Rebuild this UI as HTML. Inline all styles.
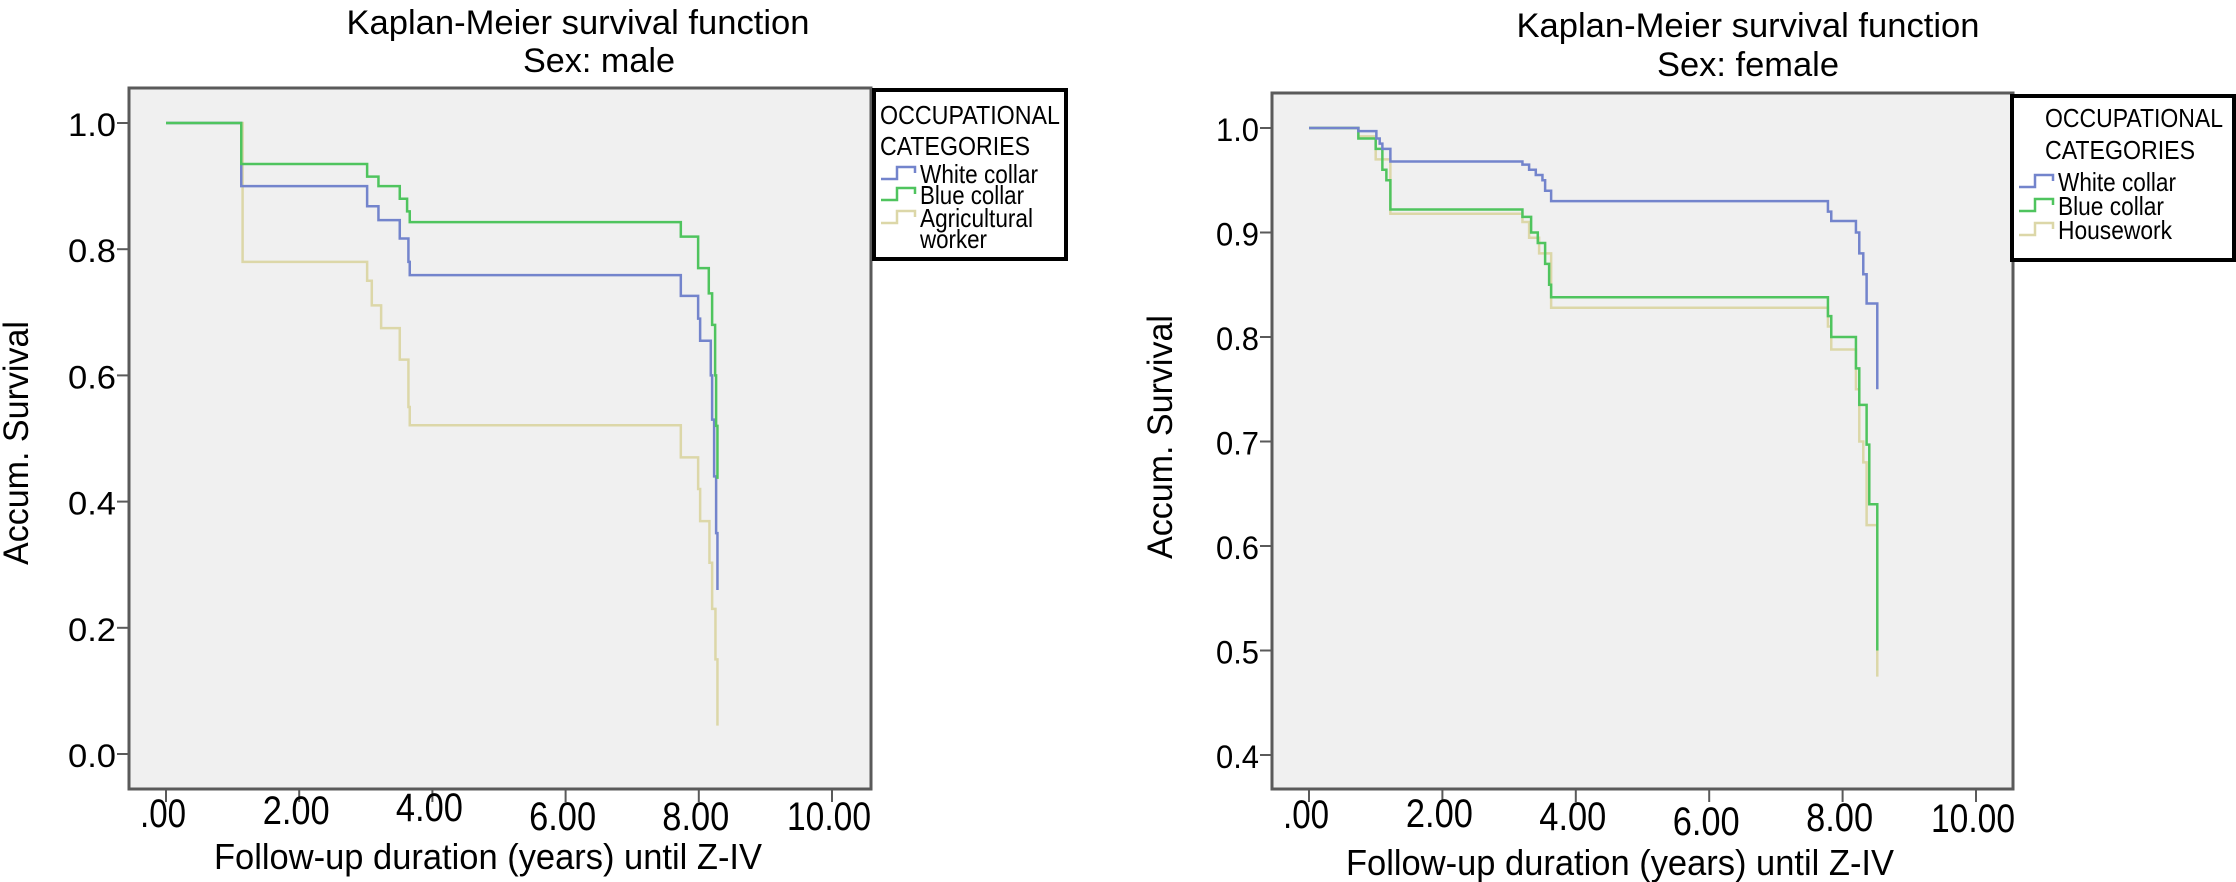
<!DOCTYPE html>
<html><head><meta charset="utf-8"><style>
html,body{margin:0;padding:0;background:#fff;}
svg{display:block;font-family:"Liberation Sans",sans-serif;}
</style></head><body>
<svg id="chart" width="2236" height="882" viewBox="0 0 2236 882" xmlns="http://www.w3.org/2000/svg">
<g id="male"></g>
<g id="female"></g>
</svg>
<script>
// ---- data: male panel ----
const maleWhiteT = [0, 1.13, 3.02, 3.19, 3.51, 3.64, 3.66, 7.73, 7.99, 8.02, 8.18, 8.2, 8.23, 8.26];
const maleWhiteS = [1.0, 0.90, 0.868, 0.846, 0.817, 0.78, 0.759, 0.726, 0.69, 0.655, 0.60, 0.53, 0.44, 0.35];
const maleWhiteEnd = [8.28, 0.26];
const maleBlueT = [0, 1.13, 3.02, 3.19, 3.51, 3.62, 3.66, 7.73, 7.99, 8.15, 8.2, 8.245, 8.26];
const maleBlueS = [1.0, 0.935, 0.915, 0.90, 0.88, 0.86, 0.843, 0.82, 0.77, 0.73, 0.68, 0.60, 0.52];
const maleBlueEnd = [8.28, 0.436];
const maleAgriT = [0, 1.15, 3.02, 3.09, 3.23, 3.51, 3.64, 3.66, 7.73, 7.99, 8.02, 8.16, 8.2, 8.25];
const maleAgriS = [1.0, 0.78, 0.75, 0.711, 0.675, 0.625, 0.55, 0.521, 0.47, 0.42, 0.369, 0.303, 0.23, 0.15];
const maleAgriEnd = [8.28, 0.045];
const maleXTicks = [0, 2, 4, 6, 8, 10];
const maleXLabels = [".00", "2.00", "4.00", "6.00", "8.00", "10.00"];
const maleYTicks = [0, 0.2, 0.4, 0.6, 0.8, 1.0];
const maleYLabels = ["0.0", "0.2", "0.4", "0.6", "0.8", "1.0"];
// ---- data: female panel ----
const femWhiteT = [0, 0.74, 1.01, 1.06, 1.1, 1.22, 3.2, 3.3, 3.4, 3.5, 3.54, 3.63, 7.78, 7.83, 8.2, 8.25, 8.31, 8.36];
const femWhiteS = [1.0, 0.997, 0.99, 0.985, 0.98, 0.968, 0.965, 0.96, 0.955, 0.95, 0.94, 0.93, 0.92, 0.911, 0.90, 0.88, 0.86, 0.832];
const femWhiteEnd = [8.52, 0.75];
const femBlueT = [0, 0.74, 1.0, 1.1, 1.16, 1.22, 3.2, 3.33, 3.43, 3.54, 3.6, 3.63, 7.78, 7.83, 8.2, 8.25, 8.36, 8.4];
const femBlueS = [1.0, 0.99, 0.98, 0.96, 0.95, 0.922, 0.915, 0.90, 0.89, 0.87, 0.85, 0.838, 0.82, 0.80, 0.77, 0.735, 0.697, 0.64];
const femBlueEnd = [8.52, 0.50];
const femHouseT = [0, 0.74, 1.0, 1.22, 3.2, 3.3, 3.45, 3.63, 7.78, 7.83, 8.2, 8.25, 8.31, 8.36];
const femHouseS = [1.0, 0.992, 0.97, 0.918, 0.91, 0.895, 0.88, 0.828, 0.81, 0.788, 0.75, 0.70, 0.68, 0.62];
const femHouseEnd = [8.52, 0.475];
const femXTicks = [0, 2, 4, 6, 8, 10];
const femXLabels = [".00", "2.00", "4.00", "6.00", "8.00", "10.00"];
const femYTicks = [0.4, 0.5, 0.6, 0.7, 0.8, 0.9, 1.0];
const femYLabels = ["0.4", "0.5", "0.6", "0.7", "0.8", "0.9", "1.0"];

const NS = "http://www.w3.org/2000/svg";
function mk(parent, tag, attrs, txt) {
  const e = document.createElementNS(NS, tag);
  for (const k in attrs) e.setAttribute(k, attrs[k]);
  if (txt !== undefined) e.textContent = txt;
  parent.appendChild(e);
  return e;
}
const COL = {white: "#7384cc", blue: "#4fc45e", agri: "#dcd7a8"};
const XW = {".00": 46, "2.00": 67, "4.00": 67, "6.00": 67, "8.00": 67, "10.00": 84};

function panel(g, cfg) {
  const xs = v => cfg.x0 + (v - cfg.xmin) / (cfg.xmax - cfg.xmin) * (cfg.x1 - cfg.x0);
  const ys = v => cfg.y0 + (cfg.ymax - v) / (cfg.ymax - cfg.ymin) * (cfg.y1 - cfg.y0);
  const bg = mk(g, "rect", {x: cfg.L, y: cfg.T, width: cfg.R - cfg.L, height: cfg.B - cfg.T, fill: "#f0f0f0", stroke: "#5a5a5a", "stroke-width": 3});
  
  
  const t1 = mk(g, "text", {x: cfg.tx1, y: cfg.ty1, "font-size": 34, "text-anchor": "middle", textLength: 463, lengthAdjust: "spacingAndGlyphs"}, "Kaplan-Meier survival function");
  
  
  const t2 = mk(g, "text", {x: cfg.tx2, y: cfg.ty2, "font-size": 34, "text-anchor": "middle", textLength: cfg.subw, lengthAdjust: "spacingAndGlyphs"}, cfg.sub);
  
  
  cfg.yticks.forEach((v, i) => {
    const y = ys(v);
    const tk = mk(g, "line", {x1: cfg.L - 12, x2: cfg.L, y1: y, y2: y, stroke: "#5a5a5a", "stroke-width": 2});
    
    
    const lb = mk(g, "text", {x: cfg.L - 13, y: y + 13, "font-size": 32, "text-anchor": "end", textLength: cfg.ytl, lengthAdjust: "spacingAndGlyphs"}, cfg.ylabels[i]);
    
    
  });
  cfg.xticks.forEach((v, i) => {
    const x = xs(v);
    const tk = mk(g, "line", {x1: x, x2: x, y1: cfg.B, y2: cfg.B + 13, stroke: "#5a5a5a", "stroke-width": 2});
    
    
    const lb = mk(g, "text", {x: x - 3, y: cfg.xlb[i], "font-size": 40, "text-anchor": "middle", textLength: XW[cfg.xlabels[i]], lengthAdjust: "spacingAndGlyphs"}, cfg.xlabels[i]);
    
    
  });
  const xt = mk(g, "text", {x: cfg.xtx, y: cfg.xty, "font-size": 36, "text-anchor": "middle", textLength: 548, lengthAdjust: "spacingAndGlyphs"}, "Follow-up duration (years) until Z-IV");
  
  
  const yt = mk(g, "text", {x: 0, y: 0, "font-size": 35, "text-anchor": "middle", textLength: 244, lengthAdjust: "spacingAndGlyphs", transform: `translate(${cfg.ytx},${cfg.yty}) rotate(-90)`}, "Accum. Survival");
  
  
  cfg.series.forEach(s => {
    let d = `M${xs(s.t[0])},${ys(s.s[0])}`;
    for (let i = 1; i < s.t.length; i++) d += ` H${xs(s.t[i])} V${ys(s.s[i])}`;
    d += ` H${xs(s.end[0])} V${ys(s.end[1])}`;
    const p = mk(g, "path", {d: d, fill: "none", stroke: s.c, "stroke-width": 2.5});
    
    
  });
  const lg = mk(g, "g", {});
  
  
  mk(lg, "rect", {x: cfg.lg.x, y: cfg.lg.y, width: cfg.lg.w, height: cfg.lg.h, fill: "#fff", stroke: "#000", "stroke-width": 4});
  cfg.lg.head.forEach(h => {
    const ht = mk(lg, "text", {x: h[0], y: h[1], "font-size": 26, textLength: h[3], lengthAdjust: "spacingAndGlyphs"}, h[2]);
    
    
  });
  cfg.lg.items.forEach(it => {
    const e = mk(lg, "g", {});
    
    
    const sx = cfg.lg.sx, y = it.y;
    mk(e, "path", {d: `M${sx},${y - 4} H${sx + 16} V${y - 16} H${sx + 34} V${y - 10}`, fill: "none", stroke: it.c, "stroke-width": 2.5});
    it.lines.forEach((ln, j) => {
      mk(e, "text", {x: sx + 39, y: y + j * 21, "font-size": 26, textLength: ln[1], lengthAdjust: "spacingAndGlyphs"}, ln[0]);
    });
  });
}

panel(document.getElementById("male"), {
  L: 129, R: 871, T: 88, B: 789,
  x0: 166, x1: 832, xmin: 0, xmax: 10,
  y0: 123, y1: 754, ymin: 0, ymax: 1,
  tx1: 578, ty1: 34, tx2: 599, ty2: 72, sub: "Sex: male", subw: 152, ytl: 48,
  xticks: maleXTicks, xlabels: maleXLabels, xlb: [827, 824, 821, 830, 830, 830],
  yticks: maleYTicks, ylabels: maleYLabels,
  xtx: 488, xty: 869, ytx: 28, yty: 443,
  series: [
    {t: maleAgriT, s: maleAgriS, end: maleAgriEnd, c: COL.agri, name: 'agricultural-worker'},
    {t: maleWhiteT, s: maleWhiteS, end: maleWhiteEnd, c: COL.white, name: 'white-collar'},
    {t: maleBlueT, s: maleBlueS, end: maleBlueEnd, c: COL.blue, name: 'blue-collar'}
  ],
  lg: {x: 874, y: 90, w: 192, h: 169, sx: 881,
    head: [[880, 124, "OCCUPATIONAL", 180], [880, 155, "CATEGORIES", 150]],
    items: [
      {y: 183, c: COL.white, lines: [["White collar", 118]]},
      {y: 204, c: COL.blue, lines: [["Blue collar", 104]]},
      {y: 227, c: COL.agri, lines: [["Agricultural", 113], ["worker", 67]]}
    ]}
});

panel(document.getElementById("female"), {
  L: 1272, R: 2013, T: 93, B: 789,
  x0: 1309, x1: 1976, xmin: 0, xmax: 10,
  y0: 128, y1: 755, ymin: 0.4, ymax: 1,
  tx1: 1748, ty1: 37, tx2: 1748, ty2: 76, sub: "Sex: female", subw: 182, ytl: 43,
  xticks: femXTicks, xlabels: femXLabels, xlb: [828, 827, 830, 835, 831, 832],
  yticks: femYTicks, ylabels: femYLabels,
  xtx: 1620, xty: 875, ytx: 1172, yty: 437,
  series: [
    {t: femHouseT, s: femHouseS, end: femHouseEnd, c: COL.agri, name: 'housework'},
    {t: femBlueT, s: femBlueS, end: femBlueEnd, c: COL.blue, name: 'blue-collar'},
    {t: femWhiteT, s: femWhiteS, end: femWhiteEnd, c: COL.white, name: 'white-collar'}
  ],
  lg: {x: 2012, y: 96, w: 222, h: 164, sx: 2019,
    head: [[2045, 127, "OCCUPATIONAL", 178], [2045, 159, "CATEGORIES", 150]],
    items: [
      {y: 191, c: COL.white, lines: [["White collar", 118]]},
      {y: 215, c: COL.blue, lines: [["Blue collar", 106]]},
      {y: 239, c: COL.agri, lines: [["Housework", 114]]}
    ]}
});
</script>
</body></html>
